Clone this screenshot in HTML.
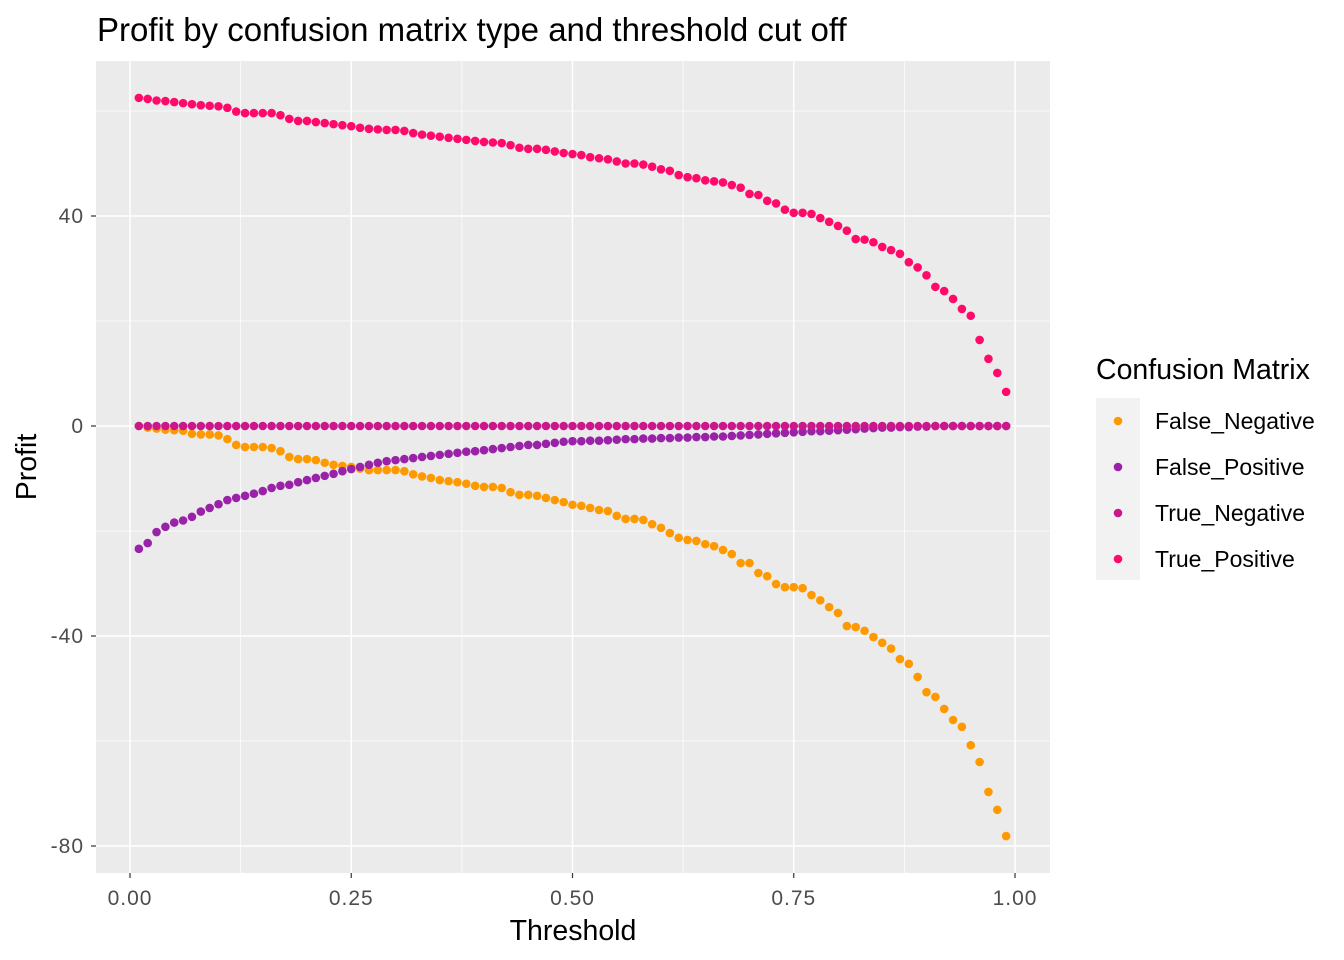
<!DOCTYPE html>
<html><head><meta charset="utf-8"><style>
html,body{margin:0;padding:0;background:#fff}
svg{display:block;font-family:"Liberation Sans",Arial,sans-serif}
</style></head><body>
<svg id="chart" width="1344" height="960" xmlns="http://www.w3.org/2000/svg">
<text x="97" y="41" font-size="33" fill="#000">Profit by confusion matrix type and threshold cut off</text>
<rect x="96" y="61" width="954" height="812" fill="#ebebeb"/>
<g id="grid"></g>
<g id="points"></g>
<g id="axes"></g>
<text x="573" y="940" font-size="28.5" text-anchor="middle">Threshold</text>
<text transform="translate(36,467) rotate(-90)" font-size="28.5" text-anchor="middle">Profit</text>
<g id="legend">
<text x="1096" y="379" font-size="28.5">Confusion Matrix</text>
<rect x="1096" y="398" width="44" height="182" fill="#f2f2f2"/>
</g>
</svg>
<script>
const thresholds = [];
for (let i = 1; i <= 99; i++) thresholds.push(i / 100);
const truePositive = [62.5,62.3,62,61.9,61.7,61.5,61.3,61.1,61,60.9,60.6,59.9,59.6,59.6,59.6,59.6,59.2,58.5,58.1,58.1,57.9,57.7,57.5,57.3,57.1,56.8,56.6,56.5,56.4,56.4,56.2,55.8,55.5,55.3,55.1,54.9,54.7,54.5,54.3,54.1,54.0,53.9,53.5,53.0,52.8,52.8,52.6,52.3,52.0,51.8,51.6,51.2,51.0,50.8,50.4,50.0,50.0,49.8,49.4,48.9,48.6,47.8,47.4,47.2,46.8,46.6,46.4,45.9,45.4,44.2,44.0,42.9,42.4,41.2,40.6,40.6,40.4,39.6,38.9,38.1,37.2,35.6,35.5,35.0,34.1,33.5,32.8,31.2,30.2,28.7,26.5,25.7,24.2,22.3,21.0,16.4,12.8,10.1,6.5];
const falseNegative = [0,-0.3,-0.5,-0.7,-0.8,-0.9,-1.5,-1.6,-1.6,-1.8,-2.5,-3.6,-4,-4,-4,-4.2,-4.8,-5.9,-6.3,-6.3,-6.5,-7,-7.4,-7.6,-7.8,-8.1,-8.4,-8.4,-8.4,-8.4,-8.6,-9.2,-9.6,-9.9,-10.3,-10.5,-10.7,-11,-11.4,-11.6,-11.6,-11.8,-12.6,-13.1,-13.1,-13.3,-13.7,-14.1,-14.5,-15,-15.2,-15.6,-16,-16.2,-17.1,-17.7,-17.7,-17.9,-18.7,-19.4,-20.4,-21.3,-21.7,-21.9,-22.5,-22.9,-23.6,-24.4,-26.1,-26.1,-28,-28.6,-30.1,-30.7,-30.7,-30.9,-32.2,-33.2,-34.5,-35.6,-38.1,-38.3,-39,-40.2,-41.3,-42.4,-44.4,-45.3,-47.8,-50.7,-51.6,-53.9,-56,-57.3,-60.8,-64,-69.7,-73.1,-78.1];
const falsePositive = [-23.4,-22.3,-20.2,-19.2,-18.4,-18,-17.3,-16.3,-15.6,-14.9,-14.1,-13.7,-13.3,-12.9,-12.4,-11.8,-11.4,-11.2,-10.7,-10.3,-9.9,-9.5,-9.1,-8.6,-8.2,-7.8,-7.4,-7,-6.7,-6.5,-6.3,-6.1,-5.9,-5.7,-5.5,-5.3,-5.1,-4.9,-4.8,-4.6,-4.4,-4.2,-4,-3.8,-3.6,-3.6,-3.4,-3.2,-3.0,-2.9,-2.9,-2.8,-2.8,-2.7,-2.6,-2.5,-2.5,-2.4,-2.4,-2.3,-2.3,-2.2,-2.2,-2.1,-2.1,-2.0,-2.0,-1.9,-1.8,-1.7,-1.6,-1.5,-1.4,-1.3,-1.2,-1.1,-1.0,-1.0,-0.9,-0.8,-0.7,-0.6,-0.5,-0.4,-0.3,-0.3,-0.2,-0.2,-0.1,-0.1,0,0,0,0,0,0,0,0,0];
const trueNegative = thresholds.map(() => 0);
const seriesNames = ["False_Negative","False_Positive","True_Negative","True_Positive"];
const seriesColors = ["#ff9900","#9a22a8","#cc168c","#ff0a6a"];
const xTicks = [0,0.25,0.5,0.75,1];
const xTickLabels = ["0.00","0.25","0.50","0.75","1.00"];
const yTicks = [-80,-40,0,40];
const yTickLabels = ["-80","-40","0","40"];

const NS = "http://www.w3.org/2000/svg";
const X = v => 130 + v * 885;
const Y = v => 426 - v * 5.25;
function mk(tag, attrs, parent) {
  const e = document.createElementNS(NS, tag);
  for (const k in attrs) e.setAttribute(k, attrs[k]);
  parent.appendChild(e);
  return e;
}
const grid = document.getElementById('grid');
[-60,-20,20,60].forEach(v => {
  const l = mk('line', {x1:96,x2:1050,y1:Y(v),y2:Y(v),stroke:'#fff','stroke-width':0.7}, grid);
  
  
});
[0.125,0.375,0.625,0.875].forEach(v => {
  const l = mk('line', {x1:X(v),x2:X(v),y1:61,y2:873,stroke:'#fff','stroke-width':0.7}, grid);
  
  
});
const axes = document.getElementById('axes');
yTicks.forEach((v, i) => {
  const l = mk('line', {x1:96,x2:1050,y1:Y(v),y2:Y(v),stroke:'#fff','stroke-width':1.5}, grid);
  
  
  const t = mk('line', {x1:91,x2:96,y1:Y(v),y2:Y(v),stroke:'#333','stroke-width':1.2}, axes);
  
  
  const tx = mk('text', {x:84,y:Y(v)+7,'font-size':21,fill:'#4d4d4d','text-anchor':'end','letter-spacing':1}, axes);
  tx.textContent = yTickLabels[i];
  
  
});
xTicks.forEach((v, i) => {
  const l = mk('line', {x1:X(v),x2:X(v),y1:61,y2:873,stroke:'#fff','stroke-width':1.5}, grid);
  
  
  const t = mk('line', {x1:X(v),x2:X(v),y1:873,y2:878,stroke:'#333','stroke-width':1.2}, axes);
  
  
  const tx = mk('text', {x:X(v),y:905,'font-size':21,fill:'#4d4d4d','text-anchor':'middle','letter-spacing':1}, axes);
  tx.textContent = xTickLabels[i];
  
  
});
const pts = document.getElementById('points');
const allSeries = [falseNegative, falsePositive, trueNegative, truePositive];
allSeries.forEach((s, si) => {
  s.forEach((v, i) => {
    const c = mk('circle', {cx:X(thresholds[i]),cy:Y(v),r:4.3,fill:seriesColors[si]}, pts);
    
    
  });
});
const legend = document.getElementById('legend');
seriesNames.forEach((n, i) => {
  const y = 421 + i * 46;
  const c = mk('circle', {cx:1118,cy:y,r:4.3,fill:seriesColors[i]}, legend);
  
  
  const t = mk('text', {x:1155,y:y+8,'font-size':23,fill:'#000'}, legend);
  t.textContent = n;
  
  
});
</script>
</body></html>
